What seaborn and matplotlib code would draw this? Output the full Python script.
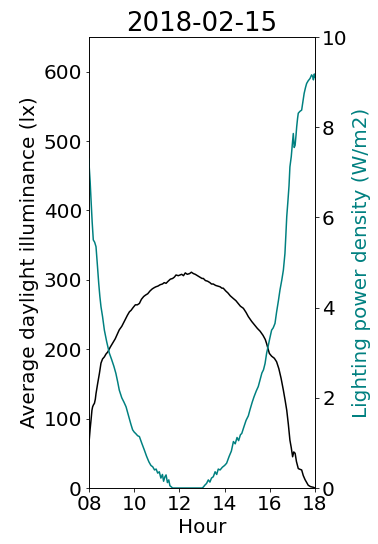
import matplotlib
matplotlib.use("Agg")
import matplotlib.pyplot as plt
import seaborn as sns
import pandas as pd

title = "2018-02-15"
x_label = "Hour"
left_label = "Average daylight illuminance (lx)"
right_label = "Lighting power density (W/m2)"
hour_ticks = [8, 10, 12, 14, 16, 18]
hour_tick_labels = ["08", "10", "12", "14", "16", "18"]

illum_hours = [8.0, 8.01, 8.05, 8.09, 8.13, 8.16, 8.2, 8.24, 8.28, 8.31, 8.38, 8.46, 8.53, 8.6, 8.68,
               8.75, 8.83, 8.94, 9.05, 9.16, 9.27, 9.34, 9.45, 9.56, 9.7, 9.79, 9.86, 9.95, 10.05,
               10.14, 10.23, 10.32, 10.42, 10.5, 10.6, 10.7, 10.8, 10.9, 10.96, 11.05, 11.15, 11.25,
               11.33, 11.41, 11.5, 11.6, 11.7, 11.78, 11.85, 11.95, 12.03, 12.1, 12.18, 12.26, 12.35,
               12.45, 12.53, 12.62, 12.7, 12.8, 12.9, 13.0, 13.06, 13.15, 13.25, 13.35, 13.42, 13.5,
               13.6, 13.7, 13.8, 13.88, 13.94, 14.05, 14.15, 14.25, 14.39, 14.5, 14.6, 14.7, 14.83,
               14.95, 15.05, 15.2, 15.3, 15.45, 15.57, 15.7, 15.8, 15.86, 15.98, 16.08, 16.2, 16.3,
               16.4, 16.5, 16.6, 16.68, 16.75, 16.82, 16.89, 16.95, 17.01, 17.06, 17.12, 17.18,
               17.26, 17.33, 17.41, 17.48, 17.56, 17.63, 17.7, 17.8, 17.93, 18.0]
illum_values = [62, 69, 85, 98, 112, 117, 120, 122, 128, 136, 150, 165, 180, 186, 189,
                193, 196, 203, 209, 215, 223, 228, 233, 240, 249, 254, 256, 260, 264,
                264, 266, 272, 276, 278, 280, 284, 287, 289, 290, 291, 293, 294,
                296, 295, 298, 301, 302, 304, 307, 306, 307, 308, 306, 310, 308,
                309, 311, 309, 308, 306, 304, 302, 302, 299, 298, 296, 294, 294,
                292, 291, 290, 288, 288, 284, 281, 277, 273, 270, 266, 262, 259,
                253, 247, 240, 236, 230, 226, 220, 214, 208, 194, 190, 187, 182,
                172, 158, 141, 126, 112, 92, 69, 58, 45, 52, 50, 38,
                28, 27, 26, 18, 12, 8, 4, 2, 1, 0]

power_hours = [8.0, 8.01, 8.05, 8.09, 8.14, 8.19, 8.25, 8.31, 8.37, 8.43, 8.48, 8.53, 8.6, 8.68,
               8.78, 8.9, 9.0, 9.1, 9.19, 9.27, 9.34, 9.45, 9.55, 9.64, 9.75, 9.85, 9.93, 10.0,
               10.08, 10.15, 10.23, 10.33, 10.45, 10.55, 10.65, 10.74, 10.82, 10.9, 10.97, 11.04,
               11.11, 11.18, 11.25, 11.3, 11.36, 11.41, 11.47, 11.53, 11.58, 11.63, 11.7, 12.0,
               12.5, 13.0, 13.06, 13.12, 13.2, 13.28, 13.35, 13.42, 13.5, 13.58, 13.65, 13.72,
               13.8, 13.9, 14.0, 14.09, 14.2, 14.3, 14.39, 14.47, 14.55, 14.62, 14.7, 14.76,
               14.85, 14.95, 15.05, 15.12, 15.22, 15.3, 15.4, 15.49, 15.57, 15.65, 15.72, 15.79,
               15.86, 15.93, 16.0, 16.08, 16.15, 16.23, 16.3, 16.38, 16.45, 16.53, 16.6, 16.67,
               16.71, 16.75, 16.8, 16.85, 16.89, 16.95, 17.0, 17.04, 17.08, 17.12, 17.16, 17.19,
               17.23, 17.26, 17.33, 17.41, 17.46, 17.52, 17.58, 17.63, 17.7, 17.78, 17.85, 17.9,
               17.93, 17.97, 18.0]
power_values = [7.3, 7.12, 6.8, 6.39, 5.9, 5.5, 5.45, 5.35, 4.95, 4.54, 4.25, 4.02, 3.8, 3.5,
                3.25, 2.99, 2.85, 2.7, 2.54, 2.35, 2.17, 2.0, 1.9, 1.8, 1.6, 1.42, 1.29, 1.24,
                1.2, 1.16, 1.14, 1.0, 0.84, 0.7, 0.58, 0.5, 0.47, 0.4, 0.42, 0.33,
                0.36, 0.22, 0.3, 0.15, 0.25, 0.29, 0.12, 0.18, 0.05, 0.03, 0.0, 0.0,
                0.0, 0.0, 0.02, 0.06, 0.1, 0.18, 0.13, 0.22, 0.25, 0.36, 0.3, 0.42,
                0.4, 0.46, 0.5, 0.55, 0.7, 0.82, 1.03, 0.98, 1.12, 1.05, 1.18, 1.21,
                1.35, 1.5, 1.6, 1.73, 1.9, 2.02, 2.15, 2.25, 2.4, 2.55, 2.62, 2.76,
                2.99, 3.15, 3.32, 3.5, 3.55, 3.65, 3.9, 4.15, 4.39, 4.61, 4.83, 5.2,
                5.6, 6.02, 6.35, 6.7, 7.12, 7.35, 7.64, 7.86, 7.55, 7.6, 7.82, 8.01,
                8.2, 8.31, 8.35, 8.38, 8.55, 8.75, 8.88, 8.97, 9.03, 9.08, 9.16, 9.12,
                9.05, 9.18, 9.1]

illum_df = pd.DataFrame({"hour": illum_hours, "illum": illum_values})
power_df = pd.DataFrame({"hour": power_hours, "power": power_values})

sns.set_style("ticks")
plt.rcParams.update({
    "font.family": ["DejaVu Sans"],
    "xtick.labelsize": 20,
    "ytick.labelsize": 20,
    "axes.labelsize": 20,
    "axes.titlesize": 26,
    "axes.edgecolor": "black",
    "axes.linewidth": 0.8,
    "xtick.color": "black",
    "ytick.color": "black",
    "xtick.major.size": 3.5,
    "ytick.major.size": 3.5,
    "xtick.major.width": 0.8,
    "ytick.major.width": 0.8,
    "text.color": "black",
    "axes.labelcolor": "black",
})

fig = plt.figure(figsize=(378 / 72, 544 / 72), dpi=72)
ax = fig.add_axes([89 / 378, 1 - 488 / 544, (315 - 89) / 378, (488 - 37) / 544])
sns.lineplot(data=illum_df, x="hour", y="illum", ax=ax, color="black", linewidth=1.5, estimator=None)
ax.set_ylim(0, 650)
ax.set_xlim(8, 18)
ax.set_xticks(hour_ticks)
ax.set_xticklabels(hour_tick_labels)
ax.set_yticks([0, 100, 200, 300, 400, 500, 600])
ax.set_xlabel(x_label)
ax.set_ylabel(left_label)
ax.set_title(title)

ax2 = ax.twinx()
sns.lineplot(data=power_df, x="hour", y="power", ax=ax2, color="teal", linewidth=1.5, estimator=None)
ax2.set_ylim(0, 10)
ax2.set_yticks([0, 2, 4, 6, 8, 10])
ax2.set_ylabel(right_label, color="teal")
ax2.set_xlim(8, 18)
for a in (ax, ax2):
    for s in a.spines.values():
        s.set_visible(True)
        s.set_color("black")

fig.savefig("out.png", dpi=72)
